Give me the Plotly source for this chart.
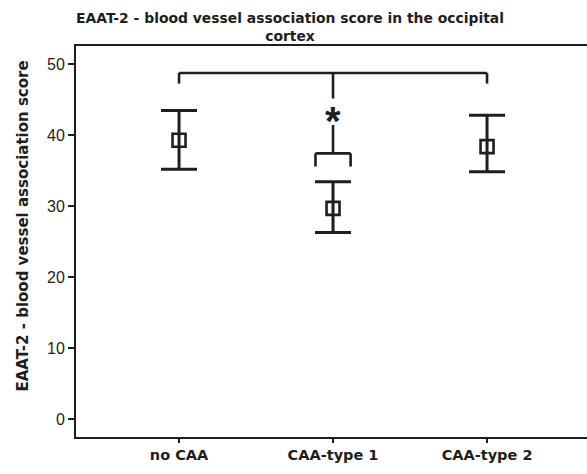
import plotly.graph_objects as go

# ---- data ----
categories = ["no CAA", "CAA-type 1", "CAA-type 2"]
means = [39.3, 29.7, 38.4]
upper = [43.5, 33.45, 42.85]
lower = [35.2, 26.3, 34.85]

# significance bracket levels (data units)
bracket_top = 48.8
bracket_leg_end = 47.3
center_upper_end = 45.2
center_lower_start = 41.45
small_bracket_top = 37.45
small_bracket_leg_end = 35.6
star_level = 42.85

x_pos = list(range(len(categories)))
err_plus = [u - m for u, m in zip(upper, means)]
err_minus = [m - l for m, l in zip(means, lower)]

ink = "#1e1e1e"
bold_font = "DejaVu Sans, Liberation Sans, Arial, sans-serif"

fig = go.Figure()
fig.add_trace(go.Scatter(
    x=x_pos, y=means, mode="markers",
    marker=dict(symbol="square-open", size=13, color=ink, line=dict(width=2.6, color=ink)),
    error_y=dict(type="data", symmetric=False, array=err_plus, arrayminus=err_minus,
                 color=ink, thickness=3, width=18),
    showlegend=False,
))

line = dict(color=ink, width=2.6)
shapes = [
    dict(type="line", x0=x_pos[0], x1=x_pos[2], y0=bracket_top, y1=bracket_top, line=line),
    dict(type="line", x0=x_pos[0], x1=x_pos[0], y0=bracket_top, y1=bracket_leg_end, line=line),
    dict(type="line", x0=x_pos[2], x1=x_pos[2], y0=bracket_top, y1=bracket_leg_end, line=line),
    dict(type="line", x0=x_pos[1], x1=x_pos[1], y0=bracket_top, y1=center_upper_end, line=line),
    dict(type="line", x0=x_pos[1], x1=x_pos[1], y0=center_lower_start, y1=small_bracket_top, line=line),
    dict(type="line", x0=x_pos[1] - 0.114, x1=x_pos[1] + 0.114, y0=small_bracket_top, y1=small_bracket_top, line=line),
    dict(type="line", x0=x_pos[1] - 0.114, x1=x_pos[1] - 0.114, y0=small_bracket_top, y1=small_bracket_leg_end, line=line),
    dict(type="line", x0=x_pos[1] + 0.114, x1=x_pos[1] + 0.114, y0=small_bracket_top, y1=small_bracket_leg_end, line=line),
]

title_text = "<b>EAAT-2 - blood vessel association score in the occipital<br>cortex</b>"
ytitle_text = "<b>EAAT-2 - blood vessel association score</b>"

fig.update_layout(
    width=587, height=474,
    margin=dict(l=76, r=0, t=46, b=37),
    paper_bgcolor="white", plot_bgcolor="white",
    font=dict(family="Liberation Sans, Arial, sans-serif", color=ink),
    shapes=shapes,
    annotations=[
        dict(x=x_pos[1], y=star_level, text="<b>*</b>", showarrow=False,
             font=dict(size=40, color=ink), yshift=-6, xanchor="center", yanchor="middle"),
        dict(x=0.419, xref="paper", y=1, yref="paper", yanchor="bottom", xanchor="center",
             text=title_text, showarrow=False, yshift=0,
             font=dict(size=13.9, color=ink, family=bold_font)),
        dict(x=0, xref="paper", y=0.5, yref="paper", xshift=-54, yshift=15,
             xanchor="center", yanchor="middle", textangle=-90,
             text=ytitle_text, showarrow=False,
             font=dict(size=15, color=ink, family=bold_font)),
    ],
)

fig.update_xaxes(
    range=[-0.669, 2.649], tickvals=x_pos, ticktext=[f"<b>{c}</b>" for c in categories],
    showline=True, linecolor=ink, linewidth=2, mirror=True,
    ticks="outside", ticklen=4, tickwidth=1.5, tickcolor=ink,
    showgrid=False, zeroline=False, tickfont=dict(size=14.5, color=ink, family=bold_font),
)
fig.update_yaxes(
    range=[-2.55, 52.6], tickvals=[0, 10, 20, 30, 40, 50],
    showline=True, linecolor=ink, linewidth=2, mirror=False,
    ticks="outside", ticklen=6, tickwidth=1.5, tickcolor=ink,
    showgrid=False, zeroline=False, tickfont=dict(size=16, color=ink),
)

fig.write_html("out.html", config={"displayModeBar": False},
               post_script="document.body.style.margin='0';document.body.style.overflow='hidden';")
